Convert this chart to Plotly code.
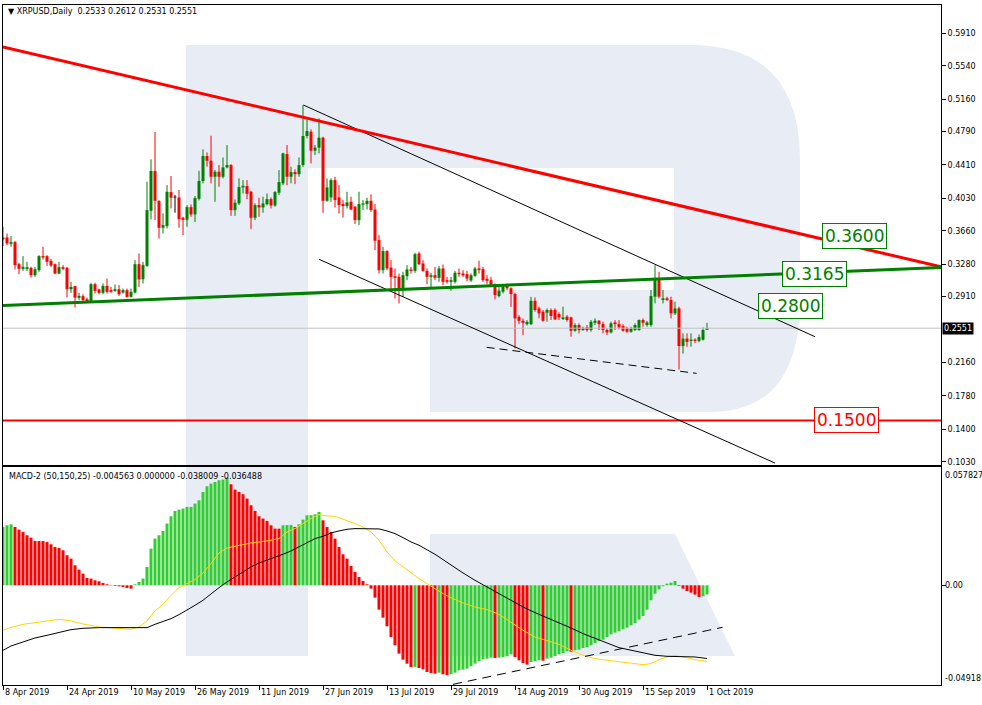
import plotly.graph_objects as go
import pandas as pd

W, H = 982, 705

# ---------------- data ----------------
start_date = "2019-04-08"

opens = [
0.3585, 0.3585, 0.3512, 0.3531, 0.3280, 0.3227, 0.3227, 0.3239, 0.3155, 0.3212,
0.3372, 0.3372, 0.3318, 0.3280, 0.3174, 0.3246, 0.3239, 0.2995, 0.3030, 0.2897,
0.2916, 0.2881, 0.2851, 0.3052, 0.2992, 0.2954, 0.3033, 0.2984, 0.2976, 0.2995,
0.2957, 0.2984, 0.2908, 0.2957, 0.3280, 0.3109, 0.3261, 0.3888, 0.4341, 0.3999,
0.3695, 0.3714, 0.4101, 0.4040, 0.4040, 0.3809, 0.3786, 0.3930, 0.3847, 0.4025,
0.4227, 0.4512, 0.4458, 0.4276, 0.4333, 0.4276, 0.4382, 0.4409, 0.3896, 0.3972,
0.4154, 0.4170, 0.4105, 0.3809, 0.3953, 0.3926, 0.3964, 0.4021, 0.3949, 0.4094,
0.4200, 0.4534, 0.4276, 0.4329, 0.4306, 0.4409, 0.4740, 0.4789, 0.4572, 0.4607,
0.4721, 0.4002, 0.4040, 0.4238, 0.4041, 0.3965, 0.3942, 0.3991, 0.3934, 0.3782,
0.3957, 0.3965, 0.4002, 0.3904, 0.3554, 0.3212, 0.3429, 0.3242, 0.3144, 0.3136,
0.2992, 0.3144, 0.3220, 0.3204, 0.3402, 0.3288, 0.3204, 0.3136, 0.3155, 0.3125,
0.3231, 0.3098, 0.3079, 0.3079, 0.3182, 0.3174, 0.3167, 0.3094, 0.3148, 0.3231,
0.3223, 0.3113, 0.3098, 0.3050, 0.2917, 0.2967, 0.3043, 0.3005, 0.2940, 0.2680,
0.2635, 0.2597, 0.2597, 0.2863, 0.2777, 0.2739, 0.2727, 0.2758, 0.2758, 0.2712,
0.2655, 0.2682, 0.2674, 0.2522, 0.2587, 0.2530, 0.2560, 0.2530, 0.2613, 0.2636,
0.2598, 0.2530, 0.2503, 0.2617, 0.2598, 0.2575, 0.2549, 0.2511, 0.2530, 0.2530,
0.2644, 0.2587, 0.2587, 0.2910, 0.3119, 0.2872, 0.2891, 0.2872, 0.2720, 0.2777,
0.2348, 0.2433, 0.2407, 0.2422, 0.2407, 0.2420, 0.2533]

highs = [
0.3706, 0.3630, 0.3600, 0.3546, 0.3296, 0.3372, 0.3307, 0.3250, 0.3250, 0.3383,
0.3478, 0.3383, 0.3341, 0.3288, 0.3307, 0.3269, 0.3250, 0.3079, 0.3033, 0.2954,
0.2938, 0.2900, 0.3068, 0.3068, 0.3003, 0.3060, 0.3117, 0.3022, 0.3049, 0.3041,
0.3003, 0.3003, 0.3003, 0.3326, 0.3402, 0.3307, 0.4219, 0.4474, 0.4785, 0.4010,
0.3858, 0.4181, 0.4284, 0.4067, 0.4124, 0.3820, 0.3953, 0.3961, 0.4056, 0.4344,
0.4588, 0.4553, 0.4743, 0.4352, 0.4409, 0.4496, 0.4637, 0.4420, 0.4018, 0.4257,
0.4238, 0.4238, 0.4116, 0.3972, 0.4037, 0.4048, 0.4086, 0.4040, 0.4113, 0.4352,
0.4550, 0.4637, 0.4390, 0.4360, 0.4496, 0.5093, 0.4922, 0.4816, 0.4637, 0.4941,
0.4732, 0.4257, 0.4257, 0.4276, 0.4181, 0.4010, 0.4105, 0.4048, 0.3942, 0.4105,
0.4010, 0.4037, 0.4075, 0.3965, 0.3611, 0.3478, 0.3440, 0.3326, 0.3231, 0.3174,
0.3193, 0.3269, 0.3250, 0.3410, 0.3421, 0.3326, 0.3231, 0.3182, 0.3250, 0.3258,
0.3277, 0.3136, 0.3136, 0.3204, 0.3231, 0.3212, 0.3204, 0.3174, 0.3250, 0.3319,
0.3250, 0.3155, 0.3137, 0.3061, 0.3043, 0.3054, 0.3060, 0.3016, 0.2955, 0.2699,
0.2661, 0.2642, 0.2908, 0.2902, 0.2796, 0.2758, 0.2777, 0.2777, 0.2777, 0.2731,
0.2796, 0.2701, 0.2682, 0.2606, 0.2606, 0.2568, 0.2587, 0.2644, 0.2663, 0.2644,
0.2625, 0.2549, 0.2625, 0.2644, 0.2644, 0.2598, 0.2568, 0.2568, 0.2606, 0.2651,
0.2663, 0.2632, 0.2986, 0.3270, 0.3194, 0.2986, 0.2910, 0.2910, 0.2853, 0.2796,
0.2492, 0.2492, 0.2492, 0.2435, 0.2480, 0.2560, 0.2612]

lows = [
0.3486, 0.3497, 0.3478, 0.3220, 0.3166, 0.3204, 0.3204, 0.3128, 0.3136, 0.3193,
0.3334, 0.3261, 0.3250, 0.3166, 0.3166, 0.3212, 0.2900, 0.2954, 0.2786, 0.2870,
0.2862, 0.2840, 0.2840, 0.2946, 0.2938, 0.2938, 0.2946, 0.2954, 0.2965, 0.2919,
0.2946, 0.2900, 0.2900, 0.2946, 0.3022, 0.3060, 0.3250, 0.3790, 0.3782, 0.3573,
0.3630, 0.3687, 0.3915, 0.3866, 0.3695, 0.3611, 0.3706, 0.3820, 0.3759, 0.4006,
0.4200, 0.4390, 0.4200, 0.3991, 0.4162, 0.4257, 0.4371, 0.3831, 0.3831, 0.3953,
0.4086, 0.4021, 0.3679, 0.3782, 0.3820, 0.3866, 0.3949, 0.3915, 0.3934, 0.4067,
0.4181, 0.4181, 0.4200, 0.4192, 0.4276, 0.4390, 0.4713, 0.4428, 0.4523, 0.4542,
0.3866, 0.3991, 0.3991, 0.3927, 0.3858, 0.3813, 0.3915, 0.3896, 0.3737, 0.3725,
0.3896, 0.3904, 0.3877, 0.3440, 0.3174, 0.3174, 0.3212, 0.2976, 0.2889, 0.2832,
0.2908, 0.3098, 0.3174, 0.3182, 0.3269, 0.3193, 0.3053, 0.3004, 0.3098, 0.3079,
0.3041, 0.3060, 0.2977, 0.3060, 0.3137, 0.3137, 0.3087, 0.3079, 0.3137, 0.3174,
0.3079, 0.3053, 0.3022, 0.2879, 0.2902, 0.2948, 0.2984, 0.2794, 0.2319, 0.2597,
0.2471, 0.2581, 0.2585, 0.2739, 0.2663, 0.2625, 0.2625, 0.2644, 0.2644, 0.2644,
0.2644, 0.2625, 0.2454, 0.2511, 0.2492, 0.2522, 0.2511, 0.2511, 0.2587, 0.2530,
0.2492, 0.2473, 0.2492, 0.2530, 0.2537, 0.2511, 0.2499, 0.2499, 0.2519, 0.2522,
0.2568, 0.2568, 0.2568, 0.2834, 0.2891, 0.2834, 0.2860, 0.2663, 0.2701, 0.2080,
0.2262, 0.2340, 0.2340, 0.2384, 0.2390, 0.2410, 0.2531]

closes = [
0.3562, 0.3516, 0.3531, 0.3269, 0.3227, 0.3250, 0.3246, 0.3155, 0.3223, 0.3372,
0.3356, 0.3307, 0.3265, 0.3174, 0.3246, 0.3227, 0.2995, 0.3022, 0.2900, 0.2919,
0.2870, 0.2855, 0.3052, 0.2976, 0.2954, 0.3033, 0.2965, 0.2965, 0.2995, 0.2938,
0.2984, 0.2908, 0.2965, 0.3280, 0.3106, 0.3269, 0.3896, 0.4341, 0.4002, 0.3695,
0.3725, 0.4105, 0.4037, 0.4040, 0.3793, 0.3786, 0.3930, 0.3847, 0.4033, 0.4227,
0.4512, 0.4458, 0.4276, 0.4333, 0.4276, 0.4382, 0.4409, 0.3896, 0.3980, 0.4158,
0.4173, 0.4082, 0.3809, 0.3953, 0.3926, 0.3972, 0.4021, 0.3949, 0.4101, 0.4215,
0.4542, 0.4276, 0.4329, 0.4306, 0.4409, 0.4740, 0.4797, 0.4572, 0.4607, 0.4721,
0.4002, 0.4154, 0.4238, 0.4010, 0.3953, 0.3942, 0.3984, 0.3904, 0.3782, 0.3965,
0.3972, 0.4002, 0.3896, 0.3547, 0.3212, 0.3429, 0.3231, 0.3136, 0.3125, 0.2992,
0.3155, 0.3220, 0.3204, 0.3394, 0.3280, 0.3204, 0.3136, 0.3155, 0.3125, 0.3231,
0.3079, 0.3079, 0.3098, 0.3182, 0.3167, 0.3152, 0.3117, 0.3155, 0.3231, 0.3212,
0.3098, 0.3091, 0.3041, 0.2929, 0.2978, 0.3043, 0.3005, 0.2940, 0.2663, 0.2635,
0.2612, 0.2623, 0.2863, 0.2758, 0.2720, 0.2636, 0.2758, 0.2690, 0.2651, 0.2674,
0.2674, 0.2644, 0.2522, 0.2587, 0.2530, 0.2549, 0.2530, 0.2625, 0.2636, 0.2598,
0.2530, 0.2503, 0.2606, 0.2598, 0.2560, 0.2522, 0.2511, 0.2549, 0.2587, 0.2644,
0.2613, 0.2617, 0.2917, 0.3119, 0.2910, 0.2891, 0.2872, 0.2720, 0.2777, 0.2348,
0.2433, 0.2395, 0.2422, 0.2407, 0.2450, 0.2530, 0.2551]

# MACD-2 histogram (per bar) and its colour runs (g = rising, r = falling)
macd_hist = [
0.02910, 0.02993, 0.03043, 0.02910, 0.02777, 0.02661, 0.02495, 0.02378, 0.02212, 0.02211,
0.02210, 0.02162, 0.02045, 0.01912, 0.01863, 0.01746, 0.01497, 0.01330, 0.00998, 0.00782,
0.00582, 0.00366, 0.00333, 0.00249, 0.00200, 0.00116, 0.00050, 0.00017, -0.00033, -0.00050,
-0.00083, -0.00133, -0.00166, 0.00050, 0.00166, 0.00333, 0.00915, 0.01829, 0.02328, 0.02495,
0.02711, 0.03077, 0.03442, 0.03708, 0.03775, 0.03825, 0.03908, 0.03910, 0.04074, 0.04241,
0.04656, 0.04939, 0.05072, 0.05155, 0.05238, 0.05272, 0.05371, 0.05039, 0.04773, 0.04656,
0.04540, 0.04324, 0.03991, 0.03708, 0.03442, 0.03326, 0.03210, 0.02993, 0.02827, 0.02825,
0.02993, 0.03000, 0.03010, 0.02910, 0.03043, 0.03276, 0.03492, 0.03494, 0.03542, 0.03659,
0.03243, 0.02910, 0.02661, 0.02328, 0.01912, 0.01547, 0.01330, 0.00965, 0.00665, 0.00416,
0.00216, 0.00050, -0.00166, -0.00615, -0.01214, -0.01613, -0.02045, -0.02578, -0.02993, -0.03409,
-0.03708, -0.03908, -0.04074, -0.04070, -0.04124, -0.04191, -0.04324, -0.04374, -0.04407, -0.04357,
-0.04440, -0.04473, -0.04440, -0.04357, -0.04241, -0.04207, -0.04158, -0.04041, -0.03908, -0.03775,
-0.03692, -0.03659, -0.03609, -0.03625, -0.03609, -0.03575, -0.03542, -0.03442, -0.03575, -0.03742,
-0.03875, -0.03958, -0.03825, -0.03792, -0.03742, -0.03760, -0.03659, -0.03609, -0.03526, -0.03442,
-0.03376, -0.03293, -0.03310, -0.03243, -0.03210, -0.03126, -0.03077, -0.02993, -0.02877, -0.02777,
-0.02711, -0.02578, -0.02445, -0.02361, -0.02295, -0.02195, -0.02112, -0.01996, -0.01879, -0.01713,
-0.01530, -0.01214, -0.00748, -0.00416, -0.00200, -0.00050, 0.00083, 0.00133, 0.00216, -0.00033,
-0.00166, -0.00283, -0.00366, -0.00466, -0.00582, -0.00549, -0.004563]

hist_runs = [("g", 3), ("r", 30), ("g", 24), ("r", 13), ("g", 3), ("r", 1), ("g", 6),
             ("r", 23), ("g", 1), ("r", 5), ("g", 1), ("r", 2), ("g", 11), ("r", 1),
             ("g", 4), ("r", 4), ("g", 3), ("r", 1), ("g", 6), ("r", 1), ("g", 26),
             ("r", 6), ("g", 2)]

# signal line (gold) – bar index / value
signal_idx = [0, 2, 5, 8, 11, 14, 17, 20, 24, 29, 32, 34, 36, 38, 40, 42, 44, 46, 48, 50,
              52, 54, 56, 58, 62, 66, 69, 71, 73, 75, 77, 79, 81, 83, 86, 88, 90, 92, 94, 96,
              98, 100, 102, 104, 106, 108, 110, 112, 115, 118, 121, 124, 127, 130, 133, 136,
              139, 142, 145, 148, 151, 154, 157, 160, 162, 164, 166, 168, 170, 173, 176]
signal_vals = [-0.02245, -0.02095, -0.01946, -0.01863, -0.01746, -0.01696, -0.01779, -0.01929,
               -0.02079, -0.02145, -0.02195, -0.02079, -0.01779, -0.01281, -0.00948, -0.00499,
               -0.00116, 0.00083, 0.00283, 0.00615, 0.01081, 0.01613, 0.01863, 0.01946, 0.02112,
               0.02212, 0.02328, 0.02661, 0.02827, 0.03077, 0.03326, 0.03526, 0.03459, 0.03442,
               0.03243, 0.03077, 0.02910, 0.02661, 0.02245, 0.01663, 0.01214, 0.00915, 0.00615,
               0.00333, 0.00083, -0.00166, -0.00416, -0.00615, -0.00881, -0.01081, -0.01214,
               -0.01447, -0.01829, -0.02245, -0.02578, -0.02744, -0.02943, -0.03243, -0.03492,
               -0.03659, -0.03742, -0.03825, -0.03908, -0.03958, -0.03908, -0.03708, -0.03575,
               -0.03492, -0.03575, -0.03708, -0.038009]

# second line (black) – bar index / value
line2_idx = [0, 2, 5, 8, 11, 14, 17, 20, 24, 30, 36, 38, 40, 42, 44, 46, 48, 50, 52, 54, 56,
             58, 60, 62, 64, 66, 68, 70, 72, 74, 76, 78, 80, 82, 84, 86, 88, 90, 92, 94, 96, 98,
             100, 102, 104, 106, 108, 110, 112, 115, 118, 121, 124, 127, 130, 133, 136, 139,
             142, 145, 148, 151, 154, 157, 160, 163, 166, 170, 173, 176]
line2_vals = [-0.03243, -0.03027, -0.02827, -0.02628, -0.02495, -0.02345, -0.02212, -0.02145,
              -0.02112, -0.02112, -0.02112, -0.01946, -0.01796, -0.01663, -0.01463, -0.01247,
              -0.00998, -0.00748, -0.00416, -0.00116, 0.00166, 0.00416, 0.00665, 0.00915,
              0.01114, 0.01247, 0.01414, 0.01547, 0.01713, 0.01912, 0.02112, 0.02328, 0.02445,
              0.02611, 0.02711, 0.02794, 0.02827, 0.02827, 0.02827, 0.02811, 0.02711, 0.02578,
              0.02378, 0.02162, 0.01996, 0.01779, 0.01547, 0.01281, 0.00998, 0.00615, 0.00249,
              -0.00083, -0.00416, -0.00748, -0.01081, -0.01364, -0.01613, -0.01879, -0.02129,
              -0.02411, -0.02661, -0.02877, -0.03110, -0.03243, -0.03376, -0.03492, -0.03542,
              -0.03542, -0.03575, -0.036488]

price_ticks = [0.5910, 0.5540, 0.5160, 0.4790, 0.4410, 0.4030, 0.3660, 0.3280, 0.2910,
               0.2160, 0.1780, 0.1400, 0.1030]
date_ticks = ["2019-04-08", "2019-04-24", "2019-05-10", "2019-05-26", "2019-06-11",
              "2019-06-27", "2019-07-13", "2019-07-29", "2019-08-14", "2019-08-30",
              "2019-09-15", "2019-10-01"]
date_labels = ["8 Apr 2019", "24 Apr 2019", "10 May 2019", "26 May 2019", "11 Jun 2019",
               "27 Jun 2019", "13 Jul 2019", "29 Jul 2019", "14 Aug 2019", "30 Aug 2019",
               "15 Sep 2019", "1 Oct 2019"]
macd_labels = ["0.057827", "0.00", "-0.04918"]
title_text = "XRPUSD,Daily  0.2533 0.2612 0.2531 0.2551"
macd_title = "MACD-2 (50,150,25) -0.004563 0.000000 -0.038009 -0.036488"
last_price = 0.2551
level_labels = ["0.3600", "0.3165", "0.2800", "0.1500"]
level_values = [0.3600, 0.3165, 0.2800, 0.1500]

# drawn objects (time offset in days from start, price)
red_trend = ((0.0, 0.5754), (234.5, 0.3250))
green_trend = ((0.0, 0.2809), (234.5, 0.3242))
chan_upper = ((75.1, 0.5093), (203.0, 0.2454))
chan_lower = ((79.0, 0.3336), (193.0, 0.1015))
dash_support = ((120.9, 0.2333), (173.4, 0.2037))
macd_dash = ((112.5, -0.0494), (179.9, -0.02095))

# ---------------- layout helpers ----------------
def px(x):
    return x / W

def py(y):
    return 1 - y / H

t0 = pd.Timestamp(start_date)
DAY = pd.Timedelta(days=1)
def tday(d):
    return t0 + d * DAY

dates = pd.date_range(start_date, periods=len(closes), freq="D")
DAY_MS = 86400000

GREEN = "#008000"
RED = "#FF0000"
HIST_G = "#32CD32"
FONT = "DejaVu Sans"

X_RANGE = [tday(0), tday(234.5)]
Y1_RANGE = [0.0993, 0.6232]
Y2_RANGE = [-0.04973, 0.0590]

fig = go.Figure()

# candle wicks
for col, sel in ((GREEN, lambda o, c: c > o), (RED, lambda o, c: c < o), ("#000000", lambda o, c: c == o)):
    wx, wy = [], []
    for d, o, h, l, c in zip(dates, opens, highs, lows, closes):
        if sel(o, c):
            wx += [d, d, None]
            wy += [l, h, None]
    fig.add_trace(go.Scatter(x=wx, y=wy, mode="lines", line=dict(color=col, width=1),
                             hoverinfo="skip", xaxis="x", yaxis="y"))

# candle bodies
body_base = [min(o, c) for o, c in zip(opens, closes)]
body_h = [max(abs(c - o), 0.0009) for o, c in zip(opens, closes)]
body_col = [GREEN if c > o else (RED if c < o else "#000000") for o, c in zip(opens, closes)]
fig.add_trace(go.Bar(x=dates, y=body_h, base=body_base, width=0.75 * DAY_MS,
                     marker=dict(color=body_col, line=dict(width=0)),
                     xaxis="x", yaxis="y", hoverinfo="skip"))

# MACD histogram
hist_cols = []
for k, n in hist_runs:
    hist_cols += [HIST_G if k == "g" else RED] * n
fig.add_trace(go.Bar(x=dates, y=macd_hist, width=0.75 * DAY_MS,
                     marker=dict(color=hist_cols, line=dict(width=0)),
                     xaxis="x2", yaxis="y2", hoverinfo="skip"))
fig.add_trace(go.Scatter(x=[dates[i] for i in signal_idx], y=signal_vals, mode="lines",
                         line=dict(color="#FFD700", width=1), xaxis="x2", yaxis="y2"))
fig.add_trace(go.Scatter(x=[dates[i] for i in line2_idx], y=line2_vals, mode="lines",
                         line=dict(color="#000000", width=1), xaxis="x2", yaxis="y2"))

# ---------------- watermark (decorative logo) ----------------
WM = "#E8EDF5"

def P(x, y):
    return f"{px(x):.5f},{py(y):.5f}"

stem = f"M {P(186,45)} L {P(308,45)} L {P(308,656)} L {P(186,656)} Z"
bowl = (f"M {P(308,45)} L {P(690,45)} Q {P(800,45)} {P(800,160)} L {P(800,300)} "
        f"Q {P(800,412)} {P(710,412)} L {P(430,412)} L {P(430,290)} L {P(674,290)} "
        f"L {P(674,168)} L {P(308,168)} Z")
leg = f"M {P(430,534)} L {P(675,534)} L {P(735,656)} L {P(430,656)} Z"

shapes = []
for pth in (stem, bowl, leg):
    shapes.append(dict(type="path", path=pth, xref="paper", yref="paper",
                       fillcolor=WM, line=dict(width=0), layer="below"))

# horizontal lines
shapes.append(dict(type="line", xref="x", yref="y", x0=X_RANGE[0], x1=X_RANGE[1],
                   y0=last_price, y1=last_price, line=dict(color="#C0C0C0", width=1)))
shapes.append(dict(type="line", xref="x", yref="y", x0=X_RANGE[0], x1=X_RANGE[1],
                   y0=level_values[3], y1=level_values[3], line=dict(color=RED, width=2)))

def seg(obj, color, width, dash="solid", xr="x", yr="y"):
    (d0, v0), (d1, v1) = obj
    return dict(type="line", xref=xr, yref=yr, x0=tday(d0), y0=v0, x1=tday(d1), y1=v1,
                line=dict(color=color, width=width, dash=dash))

shapes.append(seg(chan_upper, "#000000", 1))
shapes.append(seg(chan_lower, "#000000", 1))
shapes.append(seg(dash_support, "#000000", 1, "8px,5px"))
shapes.append(seg(red_trend, RED, 3))
shapes.append(seg(green_trend, GREEN, 3))
shapes.append(seg(macd_dash, "#000000", 1, "9px,6px", "x2", "y2"))

# ---------------- annotations ----------------
ann = []
small = dict(family=FONT, size=8, color="#000000")
ann.append(dict(text="\u25bc " + title_text.replace("  ", " \u00a0"), x=px(6), y=py(11),
                xref="paper", yref="paper", xanchor="left", yanchor="middle",
                showarrow=False, font=small))
ann.append(dict(text=macd_title, x=px(7), y=py(476), xref="paper", yref="paper",
                xanchor="left", yanchor="middle", showarrow=False, font=small))
for d, lab in zip(date_ticks, date_labels):
    ann.append(dict(text=lab, x=pd.Timestamp(d), y=py(692), xref="x2", yref="paper",
                    xanchor="left", yanchor="middle", showarrow=False, font=small))
for lab, yy in zip(macd_labels, (475, 585, 678)):
    ann.append(dict(text=lab, x=px(943), y=py(yy), xref="paper", yref="paper",
                    xanchor="left", yanchor="middle", showarrow=False, font=small))
ann.append(dict(text=f"{last_price:.4f}", x=px(942), y=last_price, xref="paper", yref="y",
                xanchor="left", yanchor="middle", showarrow=False, bgcolor="#000000",
                borderpad=1, font=dict(family=FONT, size=8, color="#FFFFFF")))
level_x = [822, 782, 758, 814]
level_y = [0.3600, 0.3163, 0.2804, 0.1500]
level_col = [GREEN, GREEN, GREEN, RED]
for lab, xx, yy, col in zip(level_labels, level_x, level_y, level_col):
    ann.append(dict(text=lab, x=px(xx), y=yy, xref="paper", yref="y", xanchor="left",
                    yanchor="middle", showarrow=False, bgcolor="#FFFFFF", bordercolor=col,
                    borderwidth=1, borderpad=2, font=dict(family=FONT, size=17, color=col)))

axis_common = dict(showline=True, mirror=True, linecolor="#000000", linewidth=1,
                   showgrid=False, zeroline=False, automargin=False)

fig.update_layout(
    width=W, height=H, autosize=False,
    margin=dict(l=0, r=0, t=0, b=0),
    paper_bgcolor="#FFFFFF", plot_bgcolor="rgba(0,0,0,0)",
    showlegend=False, barmode="overlay", hovermode=False,
    font=dict(family=FONT, size=8, color="#000000"),
    shapes=shapes, annotations=ann,
    xaxis=dict(domain=[px(3), px(941)], range=X_RANGE, anchor="y", type="date",
               showticklabels=False, ticks="", **axis_common),
    xaxis2=dict(domain=[px(3), px(941)], range=X_RANGE, anchor="y2", type="date",
                matches="x", showticklabels=False, ticks="outside", ticklen=4,
                tickcolor="#000000", tickvals=[pd.Timestamp(d) for d in date_ticks],
                **axis_common),
    yaxis=dict(domain=[py(465), py(5)], range=Y1_RANGE, anchor="x", side="right",
               tickmode="array", tickvals=price_ticks,
               ticktext=[f"{v:.4f}" for v in price_ticks],
               ticks="outside", ticklen=4, tickcolor="#000000",
               tickfont=dict(family=FONT, size=8, color="#000000"), **axis_common),
    yaxis2=dict(domain=[py(685), py(467)], range=Y2_RANGE, anchor="x2", side="right",
                tickvals=[0], showticklabels=False, ticks="outside", ticklen=4,
                tickcolor="#000000", **axis_common),
)

fig.write_html("out.html", config={"displayModeBar": False, "staticPlot": True},
               post_script="document.body.style.margin='0px';document.body.style.padding='0px';"
                           "document.body.style.overflow='hidden';")
